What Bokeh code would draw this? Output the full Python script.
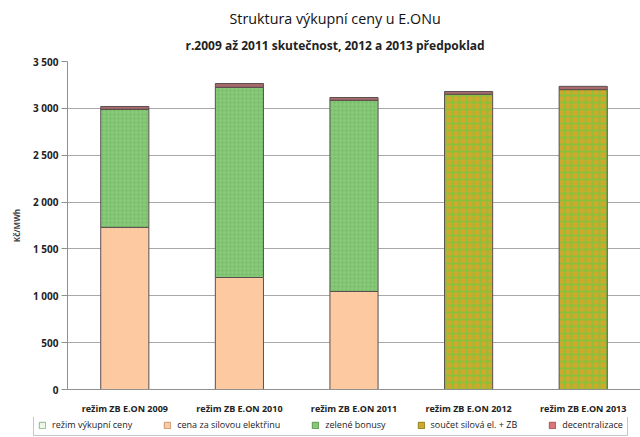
from bokeh.plotting import figure
from bokeh.layouts import column
from bokeh.models import (FixedTicker, Legend, LegendItem, Title, Range1d, ColumnDataSource)
from bokeh.embed import file_html
from bokeh.resources import INLINE

# ---- data ----
categories = ["režim ZB E.ON 2009", "režim ZB E.ON 2010", "režim ZB E.ON 2011",
              "režim ZB E.ON 2012", "režim ZB E.ON 2013"]
cena_silova = [1730, 1195, 1046, 0, 0]
zelene_bonusy = [1260, 2030, 2040, 0, 0]
soucet_silova_zb = [0, 0, 0, 3150, 3200]
decentralizace = [30, 40, 30, 30, 35]
rezim_vykupni = [0, 0, 0, 0, 0]

series = ["cena_silova", "zelene_bonusy", "soucet", "decentralizace"]
legend_labels = ["režim výkupní ceny", "cena za silovou elektřinu", "zelené bonusy",
                 "součet silová el. + ZB", "decentralizace"]
y_ticks = [0, 500, 1000, 1500, 2000, 2500, 3000, 3500]
y_tick_labels = ["0", "500", "1 000", "1 500", "2 000", "2 500", "3 000", "3 500"]
title_text = "Struktura výkupní ceny u E.ONu"
subtitle_text = "r.2009 až 2011 skutečnost, 2012 a 2013 předpoklad"
y_label = "Kč/MWh"

source = ColumnDataSource(dict(x=categories, cena_silova=cena_silova,
                               zelene_bonusy=zelene_bonusy, soucet=soucet_silova_zb,
                               decentralizace=decentralizace, rezim=rezim_vykupni))

FONT = "Open Sans"
fills = ["#EEF6E8", "#FCC9A0", "#86C878", "#D2A82A", "#D87878"]
lines = ["#8CB88C", "#C89870", "#5C9A50", "#8A8020", "#B05050"]

p = figure(x_range=categories, width=640, height=417, output_backend="svg",
           toolbar_location=None, min_border_left=67, min_border_right=0,
           min_border_top=61, min_border_bottom=28)
p.frame_align = False
p.y_range = Range1d(0, 3500)
p.outline_line_color = None

bar_fills = ["#FCC9A0", "#86C878", "#D2A82A", "#A86A6A"]
renderers = p.vbar_stack(series, x="x", width=0.42, source=source,
                         fill_color=bar_fills, line_color="#5A5050", line_width=1)
renderers[2].glyph.hatch_pattern = "cross"
renderers[2].glyph.hatch_color = "#8CBF3C"
renderers[2].glyph.hatch_weight = 2
renderers[2].glyph.hatch_scale = 7
renderers[1].glyph.hatch_pattern = "dot"
renderers[1].glyph.hatch_color = "#74B866"
renderers[1].glyph.hatch_scale = 4

# grid & axes
p.xgrid.grid_line_color = None
p.ygrid.ticker = FixedTicker(ticks=y_ticks)
p.ygrid.grid_line_color = "#A8A8A8"
p.ygrid.grid_line_width = 1

p.yaxis.ticker = FixedTicker(ticks=y_ticks)
p.yaxis.major_label_overrides = {t: l for t, l in zip(y_ticks, y_tick_labels)}
p.yaxis.axis_line_color = "#909090"
p.yaxis.major_tick_line_color = "#909090"
p.yaxis.major_tick_out = 6
p.yaxis.major_tick_in = 0
p.yaxis.minor_tick_line_color = None
p.yaxis.major_label_standoff = 3
p.yaxis.major_label_text_font = FONT
p.yaxis.major_label_text_font_style = "bold"
p.yaxis.major_label_text_font_size = "10px"
p.yaxis.major_label_text_color = "#222222"
p.yaxis.axis_label = y_label
p.yaxis.axis_label_text_font = FONT
p.yaxis.axis_label_text_font_size = "8px"
p.yaxis.axis_label_text_font_style = "bold"
p.yaxis.axis_label_standoff = 8

p.xaxis.axis_line_color = "#909090"
p.xaxis.major_tick_line_color = None
p.xaxis.major_tick_out = 0
p.xaxis.major_label_standoff = 12
p.xaxis.major_label_text_font = FONT
p.xaxis.major_label_text_font_style = "bold"
p.xaxis.major_label_text_font_size = "9px"
p.xaxis.major_label_text_color = "#222222"

# titles
sub = Title(text=subtitle_text, align="left", text_font=FONT, text_font_size="12px",
            text_font_style="bold", text_color="#222222", offset=118, standoff=16)
main = Title(text=title_text, align="left", text_font=FONT, text_font_size="14.3px",
             text_font_style="normal", text_color="#111111", offset=162, standoff=-3)
p.add_layout(sub, "above")
p.add_layout(main, "above")

# legend strip
lg = figure(width=640, height=20, output_backend="svg", toolbar_location=None,
            x_axis_type=None, y_axis_type=None, min_border=0,
            min_border_left=0, min_border_right=0, min_border_top=0, min_border_bottom=0,
            x_range=Range1d(0, 1), y_range=Range1d(0, 1))
lg.frame_align = False
lg.outline_line_color = None
lg.grid.visible = False
dummy = []
for i in range(5):
    # placed outside the visible range: only the legend swatch is seen
    r = lg.vbar(x=[5], top=[5], bottom=[4], width=0.1, fill_color=fills[i], line_color=lines[i])
    dummy.append(r)

items = [LegendItem(label=lab, renderers=[r]) for lab, r in zip(legend_labels, dummy)]
legend = Legend(items=items, orientation="horizontal", location=(33, 1),
                label_text_font=FONT, label_text_font_size="9px", label_text_color="#222222",
                glyph_width=8, glyph_height=8, label_standoff=6, spacing=31,
                padding=4, margin=0, border_line_color="#909090", border_line_width=1,
                label_height=9, background_fill_alpha=1)
lg.add_layout(legend, "center")

layout = column(p, lg, spacing=0)
open("out.html", "w").write(file_html(layout, INLINE))
